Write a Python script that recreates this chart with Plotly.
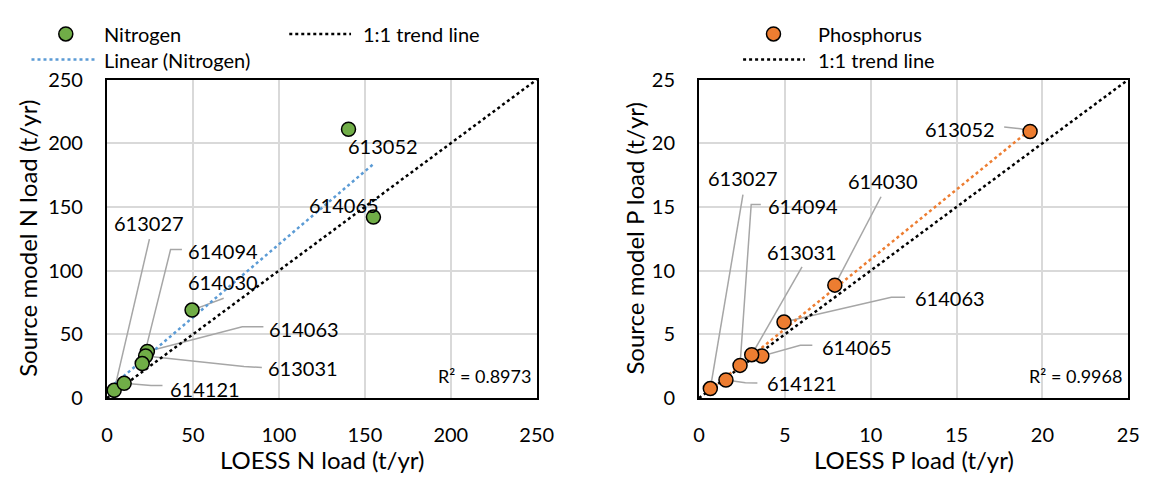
import numpy as np
import plotly.graph_objects as go

W, H = 1161, 486
FONT = "Lato"

# Gauging sites and loads (t/yr)
sites = ["613052", "614065", "614030", "614063", "613031", "614094", "613027", "614121"]
n_loess = [140.5, 155.0, 49.5, 23.5, 22.5, 20.5, 4.2, 10.0]
n_model = [211.0, 142.0, 69.0, 36.5, 33.0, 27.0, 6.0, 11.5]
p_loess = [19.28, 3.66, 7.91, 4.95, 3.07, 2.39, 0.66, 1.57]
p_model = [20.92, 3.30, 8.86, 5.96, 3.40, 2.56, 0.74, 1.41]

n_ticks = [0, 50, 100, 150, 200, 250]
p_ticks = [0, 5, 10, 15, 20, 25]
n_r2_text = "R² = 0.8973"
p_r2_text = "R² = 0.9968"

# Label placement (data units): text centre, then leader vertices running toward the point
n_label_pos = {
    "613052": ((160.4, 197.5), []),
    "614065": ((137.6, 151.5), []),
    "614030": ((67.4, 91.4), [(67.9, 78.3)]),
    "614063": ((114.4, 54.3), [(91.0, 56.0), (78.7, 56.0)]),
    "613031": ((113.8, 23.5), [(90.1, 24.0), (79.7, 24.7)]),
    "614094": ((67.4, 115.3), [(43.6, 116.5), (37.0, 116.5)]),
    "613027": ((24.3, 137.5), [(24.7, 124.7)]),
    "614121": ((56.9, 7.4), [(32.3, 9.9), (25.6, 9.9)]),
}
p_label_pos = {
    "613052": ((15.2, 21.14), [(17.77, 21.27), (18.72, 21.14)]),
    "614065": ((9.2, 3.97), [(6.6, 4.14), (5.9, 4.14)]),
    "614030": ((10.7, 17.0), [(10.6, 15.8)]),
    "614063": ((14.6, 7.85), [(12.0, 7.9), (11.2, 7.9)]),
    "613031": ((6.0, 11.5), [(6.0, 10.3)]),
    "614094": ((6.07, 15.1), [(3.6, 15.2), (3.04, 15.2)]),
    "613027": ((2.56, 17.25), [(2.56, 15.96)]),
    "614121": ((6.0, 1.17), [(3.4, 1.17), (2.7, 1.2)]),
}

GREEN = "#70AD47"
ORANGE = "#ED7D31"
BLUE = "#5B9BD5"
GRID = "#D9D9D9"
LEADER = "#A6A6A6"


def px(x):
    return x / W


def py(y):
    return 1 - y / H


fig = go.Figure()
shapes = []
annotations = []


def add_panel(xs, ys, ticks, color, trend_color, xa, ya, label_pos, r2_text, r2_px):
    # 1:1 line across the full axis range
    fig.add_trace(go.Scatter(
        x=[ticks[0], ticks[-1]], y=[ticks[0], ticks[-1]], mode="lines",
        line=dict(color="black", width=2.5, dash="dot"),
        xaxis=xa, yaxis=ya, showlegend=False, hoverinfo="skip"))
    # least-squares linear trend over the observed range
    slope, intercept = np.polyfit(xs, ys, 1)
    tx = np.array([min(xs), max(xs)])
    fig.add_trace(go.Scatter(
        x=tx, y=slope * tx + intercept, mode="lines",
        line=dict(color=trend_color, width=2.5, dash="dot"),
        xaxis=xa, yaxis=ya, showlegend=False, hoverinfo="skip"))
    fig.add_trace(go.Scatter(
        x=xs, y=ys, mode="markers", text=sites,
        marker=dict(size=14, color=color, line=dict(color="black", width=1.5)),
        xaxis=xa, yaxis=ya, showlegend=False))
    for name, x, y in zip(sites, xs, ys):
        (lx, ly), verts = label_pos[name]
        annotations.append(dict(
            x=lx, y=ly, xref=xa, yref=ya, text=name, showarrow=False,
            font=dict(family=FONT, size=20, color="black"),
            xanchor="center", yanchor="middle"))
        if verts:
            pts = verts + [(x, y)]
            path = "M " + " L ".join(f"{a},{b}" for a, b in pts)
            shapes.append(dict(type="path", path=path, xref=xa, yref=ya,
                               line=dict(color=LEADER, width=1.5), layer="between"))
    annotations.append(dict(
        x=px(r2_px[0]), y=py(r2_px[1]), xref="paper", yref="paper", text=r2_text,
        showarrow=False, xanchor="right", yanchor="middle",
        font=dict(family=FONT, size=18, color="black")))


add_panel(n_loess, n_model, n_ticks, GREEN, BLUE, "x", "y", n_label_pos, n_r2_text, (538, 382))
add_panel(p_loess, p_model, p_ticks, ORANGE, ORANGE, "x2", "y2", p_label_pos, p_r2_text, (1141, 382))


# Legends
def legend_text(x, y, text):
    annotations.append(dict(x=px(x), y=py(y), xref="paper", yref="paper", text=text,
                            showarrow=False, xanchor="left", yanchor="middle",
                            font=dict(family=FONT, size=20, color="black")))


def legend_marker(x, y, color):
    shapes.append(dict(type="circle", xref="paper", yref="paper",
                       xsizemode="pixel", ysizemode="pixel",
                       xanchor=px(x), yanchor=py(y), x0=-7, x1=7, y0=-7, y1=7,
                       fillcolor=color, line=dict(color="black", width=1.5)))


def legend_line(x0, x1, y, color):
    shapes.append(dict(type="line", xref="paper", yref="paper",
                       x0=px(x0), x1=px(x1), y0=py(y), y1=py(y),
                       line=dict(color=color, width=2.5, dash="dot")))


legend_marker(61, 22, GREEN)
legend_text(98, 22, "Nitrogen")
legend_line(289, 352, 22, "black")
legend_text(362, 22, "1:1 trend line")
legend_line(26, 92, 49, BLUE)
legend_text(98, 49, "Linear (Nitrogen)")

legend_marker(783, 22, ORANGE)
legend_text(826, 22, "Phosphorus")
legend_line(752, 815, 49, "black")
legend_text(826, 49, "1:1 trend line")

# Axis titles
title_font = dict(family=FONT, size=24, color="black")
annotations += [
    dict(x=px(322), y=py(470), xref="paper", yref="paper", text="LOESS N load (t/yr)",
         showarrow=False, font=title_font, xanchor="center", yanchor="middle"),
    dict(x=px(926), y=py(470), xref="paper", yref="paper", text="LOESS P load (t/yr)",
         showarrow=False, font=title_font, xanchor="center", yanchor="middle"),
    dict(x=px(22), y=py(237), xref="paper", yref="paper", text="Source model N load (t/yr)",
         showarrow=False, textangle=-90, font=title_font, xanchor="center", yanchor="middle"),
    dict(x=px(641), y=py(237), xref="paper", yref="paper", text="Source model P load (t/yr)",
         showarrow=False, textangle=-90, font=title_font, xanchor="center", yanchor="middle"),
]

axis_common = dict(
    showgrid=True, gridcolor=GRID, gridwidth=1.5, zeroline=False,
    showline=True, linecolor="black", linewidth=2, mirror=True,
    ticks="", tickfont=dict(family=FONT, size=20, color="black"),
    ticklabelstandoff=18, fixedrange=True,
)
ydom = [py(405), py(70)]

fig.update_layout(
    width=W, height=H,
    margin=dict(l=0, r=0, t=0, b=0),
    paper_bgcolor="white", plot_bgcolor="white",
    showlegend=False,
    xaxis=dict(domain=[px(103), px(541.5)], range=[n_ticks[0], n_ticks[-1]],
               tickvals=n_ticks, anchor="y", **axis_common),
    yaxis=dict(domain=ydom, range=[n_ticks[0], n_ticks[-1]],
               tickvals=n_ticks, anchor="x", **axis_common),
    xaxis2=dict(domain=[px(707), px(1145)], range=[p_ticks[0], p_ticks[-1]],
                tickvals=p_ticks, anchor="y2", **axis_common),
    yaxis2=dict(domain=ydom, range=[p_ticks[0], p_ticks[-1]],
                tickvals=p_ticks, anchor="x2", **axis_common),
    shapes=shapes,
    annotations=annotations,
)

fig.write_html("out.html")
